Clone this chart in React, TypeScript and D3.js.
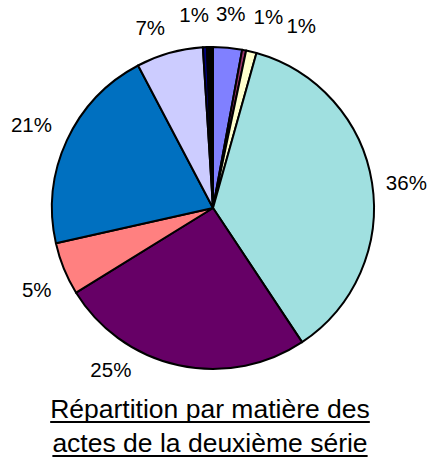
import React, { useLayoutEffect, useRef, useState } from "react";
import * as d3 from "d3";

const subjects = ["A", "B", "C", "D", "E", "F", "G", "H", "I", "J"];
const shares = [2.9, 0.4, 1.05, 36.3, 25.5, 5.3, 20.8, 6.7, 0.4, 0.6];
const labels = ["3%", "1%", "1%", "36%", "25%", "5%", "21%", "7%", "", "1%"];
const colors = ["#8080FF", "#993366", "#FFFFCC", "#A0E0E0", "#660066", "#FF8080", "#0070C0", "#CCCCFF", "#000080", "#000000"];
const titleLines = ["Répartition par matière des", "actes de la deuxième série"];

// layout: label angle nudges (degrees) and radius nudges (px) to mimic spreading of crowded labels
const labelNudge = [0, 5, 12, 1.5, 20, -2.5, 0, -3.5, 0, -4.5];
const radiusNudge = [0, 4, 8, 0, -4, -1, 5, -4, 0, -1];

const W = 429, H = 461;
const cx = 213, cy = 208, R = 161, LR = 195;

export default function App() {
  const pie = d3.pie<number>().sort(null).value((d) => d).startAngle(0).endAngle(2 * Math.PI);
  const arcs = pie(shares);
  const arc = d3.arc<d3.PieArcDatum<number>>().innerRadius(0).outerRadius(R);
  const font = "'Liberation Sans', Arial, Helvetica, sans-serif";
  const titleRefs = useRef<(SVGTextElement | null)[]>([]);
  const [widths, setWidths] = useState<number[]>([]);
  useLayoutEffect(() => {
    setWidths(titleRefs.current.map((el) => (el ? el.getComputedTextLength() : 0)));
  }, []);
  const titleX = 210;
  const baselines = [418, 452];
  return (
    <svg width={W} height={H} style={{ position: "absolute", left: 0, top: 0 }} fontFamily={font}>
      <g transform={`translate(${cx},${cy})`}>
        {arcs.map((a, i) => (
          <path key={subjects[i]} d={arc(a) || ""} fill={colors[i]} stroke="#000" strokeWidth={2} strokeLinejoin="round" />
        ))}
        {arcs.map((a, i) => {
          if (!labels[i]) return null;
          const ang = (a.startAngle + a.endAngle) / 2 + (labelNudge[i] * Math.PI) / 180;
          const r = LR + radiusNudge[i];
          const x = r * Math.sin(ang);
          const y = -r * Math.cos(ang);
          return (
            <text key={"l" + i} x={x} y={y} textAnchor="middle" dominantBaseline="central" fontSize={20.5} fill="#000">
              {labels[i]}
            </text>
          );
        })}
      </g>
      {titleLines.map((t, i) => (
        <g key={t}>
          <text
            ref={(el) => {
              titleRefs.current[i] = el;
            }}
            x={titleX}
            y={baselines[i]}
            textAnchor="middle"
            fontSize={26.5}
            fill="#000"
          >
            {t}
          </text>
          {widths[i] ? (
            <rect x={titleX - widths[i] / 2} y={baselines[i] + 3} width={widths[i]} height={2} fill="#000" />
          ) : null}
        </g>
      ))}
    </svg>
  );
}
